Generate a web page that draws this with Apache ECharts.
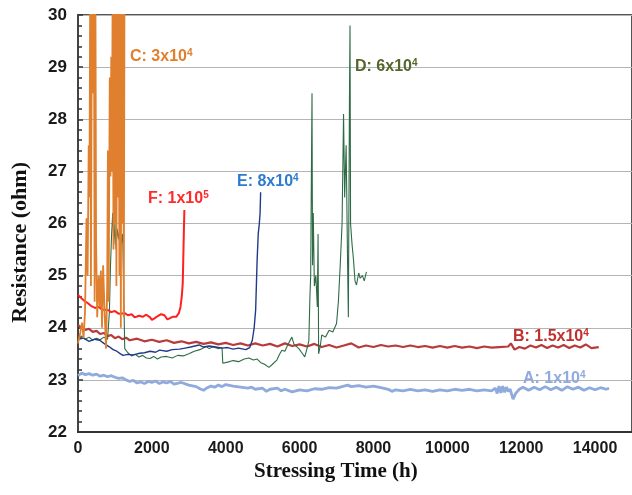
<!DOCTYPE html>
<html>
<head>
<meta charset="utf-8">
<script src="https://cdn.jsdelivr.net/npm/echarts@6/dist/echarts.min.js"></script>
<style>
html,body{margin:0;padding:0;background:#fff;}
#chart{width:632px;height:495px;}
</style>
</head>
<body>
<div id="chart"></div>
<script>
const xTicks = [0, 2000, 4000, 6000, 8000, 10000, 12000, 14000];
const yTicks = [22, 23, 24, 25, 26, 27, 28, 29, 30];

const seriesA = [[0,23.08],[100,23.13],[200,23.10],[300,23.12],[400,23.09],[500,23.11],[600,23.07],[700,23.09],[800,23.06],[900,23.08],[1000,23.05],[1100,23.03],[1200,23.04],[1300,23.00],[1400,22.97],[1500,22.99],[1600,22.94],[1700,22.96],[1800,22.93],[1900,22.97],[2000,22.95],[2100,22.98],[2200,22.93],[2300,22.96],[2400,22.94],[2500,22.97],[2600,22.92],[2800,22.95],[3000,22.90],[3200,22.87],[3300,22.83],[3400,22.80],[3500,22.85],[3600,22.88],[3700,22.86],[3800,22.90],[3900,22.87],[4000,22.91],[4200,22.88],[4400,22.86],[4600,22.84],[4700,22.86],[4800,22.82],[5000,22.84],[5100,22.78],[5200,22.82],[5400,22.84],[5500,22.79],[5600,22.82],[5800,22.77],[6000,22.81],[6200,22.79],[6400,22.83],[6600,22.82],[6800,22.85],[7000,22.84],[7200,22.88],[7300,22.90],[7400,22.87],[7600,22.89],[7800,22.86],[8000,22.88],[8200,22.85],[8400,22.82],[8500,22.78],[8600,22.81],[8800,22.79],[9000,22.82],[9200,22.79],[9400,22.81],[9600,22.78],[9800,22.81],[10000,22.79],[10200,22.82],[10400,22.80],[10600,22.82],[10800,22.79],[11000,22.81],[11200,22.79],[11300,22.84],[11350,22.74],[11400,22.88],[11450,22.75],[11500,22.88],[11550,22.76],[11600,22.86],[11650,22.78],[11700,22.82],[11780,22.63],[11850,22.74],[11950,22.82],[12050,22.86],[12200,22.80],[12350,22.86],[12500,22.81],[12650,22.87],[12800,22.81],[12950,22.86],[13100,22.80],[13250,22.87],[13400,22.82],[13550,22.86],[13700,22.80],[13850,22.85],[14000,22.81],[14150,22.85],[14300,22.82],[14380,22.84]];

const seriesB = [[0,24.05],[100,24.00],[200,23.96],[300,23.98],[400,23.92],[500,23.94],[600,23.88],[700,23.90],[800,23.84],[900,23.86],[1000,23.80],[1100,23.83],[1200,23.78],[1300,23.81],[1400,23.76],[1600,23.79],[1800,23.74],[2000,23.77],[2200,23.73],[2400,23.76],[2600,23.71],[2800,23.74],[3000,23.70],[3200,23.73],[3400,23.69],[3600,23.72],[3800,23.68],[4000,23.71],[4200,23.67],[4400,23.70],[4600,23.66],[4800,23.70],[5000,23.66],[5200,23.69],[5400,23.64],[5600,23.70],[5800,23.65],[6000,23.68],[6200,23.64],[6400,23.69],[6600,23.63],[6800,23.67],[7000,23.62],[7200,23.66],[7400,23.70],[7600,23.62],[7800,23.66],[8000,23.63],[8200,23.67],[8400,23.64],[8600,23.66],[8800,23.63],[9000,23.66],[9200,23.63],[9400,23.65],[9600,23.62],[9800,23.65],[10000,23.62],[10200,23.65],[10400,23.62],[10600,23.64],[10800,23.61],[11000,23.64],[11200,23.62],[11400,23.63],[11650,23.64],[11720,23.70],[11820,23.58],[11950,23.63],[12100,23.60],[12250,23.66],[12400,23.62],[12550,23.67],[12700,23.61],[12850,23.66],[13000,23.62],[13150,23.67],[13300,23.61],[13450,23.66],[13600,23.62],[13750,23.68],[13900,23.61],[14100,23.63]];

const seriesC = [[0,23.7],[60,23.9],[110,24.1],[150,23.8],[190,24.3],[230,26.1],[260,25.0],[290,27.5],[310,26.5],[330,30.5],[350,24.8],[380,31],[410,28.5],[430,31],[450,24.5],[470,31],[490,25.6],[520,24.2],[560,25.0],[590,24.4],[620,25.1],[650,24.0],[680,25.2],[720,24.3],[760,23.6],[790,24.8],[810,27.4],[830,24.5],[860,28.8],[880,26.9],[900,29.2],[920,27.0],[940,31],[960,25.5],[980,31],[1000,26.0],[1020,31],[1040,24.8],[1060,31],[1080,26.5],[1100,31],[1120,25.0],[1140,31],[1160,24.0],[1180,31],[1200,26],[1220,31],[1240,24.2],[1260,31]];

const seriesD = [[0,23.80],[100,23.84],[200,23.78],[300,23.82],[400,23.76],[500,23.80],[600,23.77],[700,23.82],[800,23.78],[850,24.3],[880,25.2],[910,25.8],[940,26.2],[970,25.6],[1000,26.0],[1030,25.5],[1060,25.9],[1100,25.7],[1130,25.9],[1170,25.6],[1210,25.8],[1250,25.8],[1265,23.6],[1350,23.52],[1450,23.46],[1550,23.49],[1650,23.44],[1750,23.47],[1850,23.42],[1950,23.41],[2050,23.45],[2150,23.40],[2250,23.44],[2400,23.45],[2550,23.42],[2700,23.47],[2850,23.46],[3000,23.50],[3150,23.55],[3300,23.58],[3470,23.64],[3550,23.60],[3650,23.63],[3820,23.60],[3900,23.62],[3920,23.32],[4050,23.34],[4200,23.37],[4350,23.35],[4500,23.40],[4630,23.42],[4750,23.38],[4850,23.40],[4950,23.33],[5050,23.30],[5170,23.24],[5250,23.29],[5385,23.38],[5450,23.48],[5520,23.57],[5600,23.55],[5700,23.70],[5790,23.82],[5850,23.68],[5980,23.60],[6060,23.52],[6140,23.44],[6200,23.60],[6250,23.75],[6280,24.6],[6300,25.0],[6320,27.0],[6336,28.5],[6350,25.2],[6370,26.2],[6400,24.8],[6440,25.0],[6480,24.4],[6500,25.8],[6515,23.5],[6560,23.65],[6600,23.86],[6700,23.82],[6800,23.95],[6900,23.92],[7000,24.08],[7050,24.5],[7100,25.2],[7150,26.0],[7190,28.1],[7220,26.5],[7260,27.5],[7300,25.2],[7320,24.2],[7350,28.4],[7365,29.8],[7380,26.0],[7420,25.6],[7460,25.3],[7500,24.9],[7540,24.82],[7600,25.05],[7640,24.95],[7700,25.0],[7750,24.9],[7810,25.07]];

const seriesE = [[0,23.78],[50,23.76],[150,23.80],[300,23.74],[450,23.78],[590,23.76],[700,23.70],[860,23.63],[950,23.58],[1050,23.55],[1150,23.50],[1220,23.47],[1350,23.49],[1500,23.48],[1670,23.51],[1800,23.52],[1950,23.55],[2100,23.53],[2210,23.57],[2400,23.55],[2550,23.58],[2750,23.59],[2900,23.61],[3050,23.63],[3280,23.67],[3400,23.63],[3550,23.65],[3730,23.63],[3900,23.61],[4050,23.62],[4200,23.59],[4350,23.61],[4540,23.58],[4650,23.62],[4720,23.76],[4770,24.0],[4810,24.34],[4850,25.3],[4880,25.8],[4910,26.0],[4930,26.2],[4945,26.6]];

const seriesF = [[0,24.63],[100,24.56],[200,24.50],[270,24.47],[350,24.42],[460,24.38],[560,24.40],[650,24.35],[810,24.34],[900,24.30],[1000,24.32],[1100,24.27],[1265,24.28],[1350,24.24],[1450,24.26],[1535,24.20],[1650,24.23],[1750,24.21],[1850,24.25],[1950,24.20],[2000,24.15],[2070,24.18],[2150,24.22],[2250,24.26],[2340,24.24],[2420,24.16],[2480,24.18],[2560,24.21],[2660,24.21],[2730,24.28],[2775,24.40],[2810,24.6],[2836,24.85],[2850,25.3],[2865,25.8],[2880,26.26]];

const labelTexts = [
  {base: 'C: 3x10', sup: '4', x: 130, y: 48, color: '#E0802E'},
  {base: 'D: 6x10', sup: '4', x: 355, y: 58, color: '#56652A'},
  {base: 'E: 8x10', sup: '4', x: 237, y: 173, color: '#2B7BD0'},
  {base: 'F: 1x10', sup: '5', x: 148, y: 190, color: '#FF2A2A'},
  {base: 'B: 1.5x10', sup: '4', x: 513, y: 328, color: '#C0302E'},
  {base: 'A: 1x10', sup: '4', x: 523, y: 370, color: '#8FAADC'}
];

const chart = echarts.init(document.getElementById('chart'), null, {renderer: 'canvas'});
const labelFont = 'Liberation Sans, Arial, sans-serif';
const serifFont = 'Liberation Serif, Times New Roman, serif';

function lineSeries(name, data, color, width) {
  return {
    name: name, type: 'line', data: data, symbol: 'none', clip: true,
    lineStyle: {color: color, width: width}, itemStyle: {color: color},
    animation: false
  };
}

const option = {
  animation: false,
  backgroundColor: '#fff',
  grid: {left: 78, top: 15, width: 557, height: 417, show: true, borderColor: '#555', borderWidth: 2, backgroundColor: 'transparent'},
  xAxis: {
    type: 'value', min: 0, max: 15000, interval: 2000,
    axisLine: {show: true, lineStyle: {color: '#333', width: 2}},
    axisTick: {show: false},
    splitLine: {show: false},
    axisLabel: {
      showMaxLabel: false, margin: 9, color: '#1a1a1a',
      fontFamily: labelFont, fontWeight: 'bold', fontSize: 16,
      formatter: v => xTicks.indexOf(v) >= 0 ? String(v) : ''
    }
  },
  yAxis: {
    type: 'value', min: 22, max: 30, interval: 1,
    axisLine: {show: true, lineStyle: {color: '#444', width: 2}},
    axisTick: {show: true, inside: true, length: 5, lineStyle: {color: '#333', width: 1.5}},
    minorTick: {show: true, splitNumber: 5, length: 4, lineStyle: {color: '#333', width: 1.5}},
    splitLine: {show: true, lineStyle: {color: '#b5b5b5', width: 1}},
    axisLabel: {
      margin: 11, color: '#1a1a1a',
      fontFamily: labelFont, fontWeight: 'bold', fontSize: 17,
      formatter: v => yTicks.indexOf(v) >= 0 ? String(v) : ''
    }
  },
  series: [
    lineSeries('A: 1x10^4', seriesA, '#8FAADC', 2.8),
    lineSeries('B: 1.5x10^4', seriesB, '#B83B3B', 2.2),
    lineSeries('D: 6x10^4', seriesD, '#2E6B45', 1.1),
    lineSeries('E: 8x10^4', seriesE, '#1F3A8A', 1.4),
    lineSeries('F: 1x10^5', seriesF, '#FF2020', 2),
    lineSeries('C: 3x10^4', seriesC, '#E0802E', 1.8)
  ],
  graphic: [
    {
      type: 'text', left: 9, top: 162, rotation: Math.PI / 2,
      style: {text: 'Resistance (ohm)', font: 'bold 22px ' + serifFont, fill: '#111'}
    },
    {
      type: 'text', left: 254, top: 461,
      style: {text: 'Stressing Time (h)', font: 'bold 21px ' + serifFont, fill: '#111'}
    }
  ].concat(labelTexts.map(l => ({
    type: 'text', left: l.x, top: l.y, z: 100,
    style: {
      text: '{b|' + l.base + '}{s|' + l.sup + '}',
      rich: {
        b: {fontFamily: labelFont, fontWeight: 'bold', fontSize: 16, fill: l.color, color: l.color, lineHeight: 18},
        s: {fontFamily: labelFont, fontWeight: 'bold', fontSize: 10, fill: l.color, color: l.color, verticalAlign: 'top', lineHeight: 18, padding: [0, 0, 8, 0]}
      }
    }
  })))
};
chart.setOption(option);
</script>
</body>
</html>
